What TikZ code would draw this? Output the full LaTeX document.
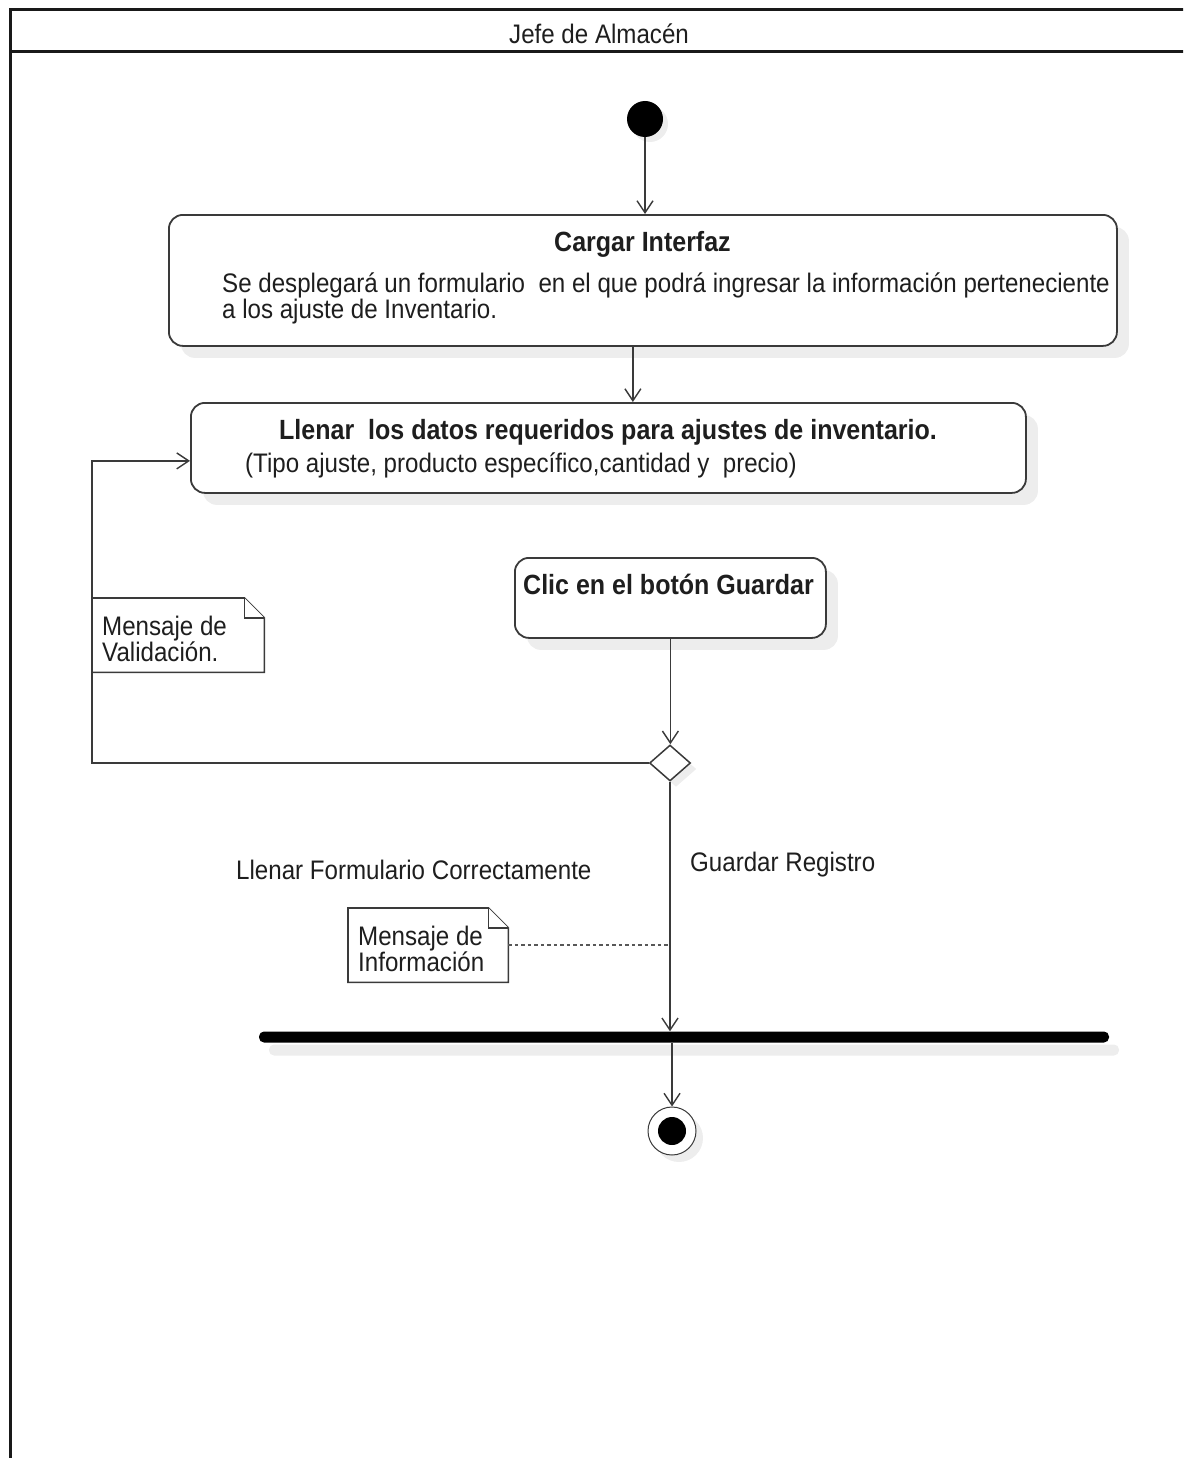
\documentclass[tikz,border=0pt]{standalone}
\usepackage{fontspec}
\setmainfont{Liberation Sans}[FakeStretch=0.9]
\usetikzlibrary{arrows.meta,shapes.geometric,shadows,calc}
\newcommand\myplain{\fontsize{26.8}{30}\selectfont}
\newcommand\mybold{\fontsize{27.8}{31}\selectfont\bfseries}
\definecolor{edge}{HTML}{3A3A3A}
\definecolor{shade}{HTML}{EDEDED}
\definecolor{ink}{HTML}{1E1E1E}
\tikzset{
  ln/.style={draw=edge, line width=1.5pt},
  flow/.style={ln, -{Straight Barb[length=12pt,width=16pt,line width=1.4pt]}},
  soft shadow/.style={drop shadow={shadow xshift=#1, shadow yshift=-#1, fill=shade, opacity=1}},
  actbox/.style={draw=edge, line width=1.8pt, rounded corners=14pt, fill=white,
    soft shadow=12pt, inner sep=0pt, anchor=north west},
  notebox/.style={inner sep=0pt, anchor=north west},
  noteline/.style={draw=edge, line width=1.6pt, fill=white},
  plain/.style={font=\myplain, text=ink, inner sep=0pt, anchor=base west},
  strong/.style={font=\mybold, text=ink, inner sep=0pt, anchor=base west},
}
\begin{document}
\begin{tikzpicture}[x=1pt,y=-1pt]
\useasboundingbox (0,0) rectangle (1183,1458);
\clip (0,0) rectangle (1183,1458);

% swimlane frame and header
\draw[line width=3pt, draw=black!90] (1200,10) -- (10,10) -- (10,1470);
\draw[line width=3pt, draw=black!90] (10,52) -- (1200,52);
\node[plain] (lane) at (509,44) {Jefe de Almacén};

% initial node
\node[circle, fill=black, minimum size=36pt, inner sep=0pt, soft shadow=5pt] (init) at (645,119) {};

% actions
\node[actbox, minimum width=948pt, minimum height=131pt] (cargar) at (168,214) {};
\node[strong] (cargarT) at (554,251) {Cargar Interfaz};
\node[plain] (cargarL1) at (222,292) {Se desplegará un formulario\ \ en el que podrá ingresar la información perteneciente};
\node[plain] (cargarL2) at (222,318) {a los ajuste de Inventario.};

\node[actbox, minimum width=835pt, minimum height=90pt] (llenar) at (190,402) {};
\node[strong] (llenarT) at (279,439) {Llenar\ \ los datos requeridos para ajustes de inventario.};
\node[plain] (llenarL) at (245,472) {(Tipo ajuste, producto específico,cantidad y\ \ precio)};

\node[actbox, minimum width=311pt, minimum height=80pt] (clic) at (514,557) {};
\node[strong] (clicT) at (523,594) {Clic en el botón Guardar};

% decision
\node[diamond, draw=edge, line width=1.5pt, fill=white, minimum width=41pt, minimum height=36pt,
      inner sep=0pt, soft shadow=6pt] (dec) at (670,763) {};

% fork bar
\node[fill=black, rounded corners=5pt, minimum width=850pt, minimum height=11pt, inner sep=0pt,
      drop shadow={shadow xshift=10pt, shadow yshift=-13pt, fill=shade, opacity=1}] (fork) at (684,1037) {};

% final node
\node[circle, draw=edge, line width=1pt, fill=white, minimum size=48pt, inner sep=0pt, soft shadow=7pt] (final) at (672,1131) {};
\node[circle, fill=black, minimum size=28pt, inner sep=0pt] (finaldot) at (final) {};

% notes
\node[notebox, minimum width=172pt, minimum height=74pt] (note1) at (92,598) {};
\draw[noteline] (note1.north west) -- ([xshift=-20pt]note1.north east) -- ([yshift=-20pt]note1.north east)
  -- (note1.south east) -- (note1.south west) -- cycle;
\draw[noteline] ([xshift=-20pt]note1.north east) -- ([xshift=-20pt,yshift=-20pt]note1.north east) -- ([yshift=-20pt]note1.north east);
\node[plain] (note1L1) at (102,635) {Mensaje de};
\node[plain] (note1L2) at (102,661) {Validación.};

\node[notebox, minimum width=160pt, minimum height=74pt] (note2) at (348,908) {};
\draw[noteline] (note2.north west) -- ([xshift=-20pt]note2.north east) -- ([yshift=-20pt]note2.north east)
  -- (note2.south east) -- (note2.south west) -- cycle;
\draw[noteline] ([xshift=-20pt]note2.north east) -- ([xshift=-20pt,yshift=-20pt]note2.north east) -- ([yshift=-20pt]note2.north east);
\node[plain] (note2L1) at (358,945) {Mensaje de};
\node[plain] (note2L2) at (358,971) {Información};

% control flows
\coordinate (loopx) at (92,0);
\draw[flow] (init.south) -- (init.south |- cargar.north);
\draw[flow] ([xshift=-10pt]cargar.south) -- ([xshift=-10pt]cargar.south |- llenar.north);
\draw[flow] (clic.south) -- (clic.south |- dec.north);
\draw[flow] (dec.west) -- (dec.west -| loopx) |- ([yshift=-13pt]llenar.west);
\draw[flow] (dec.south) -- (dec.south |- fork.north);
\draw[flow] (fork.south -| final.north) -- (final.north);

% note link
\draw[draw=edge!85, line width=2pt, dash pattern=on 3.5pt off 3pt] (note2.east) -- (note2.east -| dec.south);

% guard labels
\node[plain] (guardOk) at (690,871) {Guardar Registro};
\node[plain] (guardRetry) at (236,879) {Llenar Formulario Correctamente};
\end{tikzpicture}
\end{document}
